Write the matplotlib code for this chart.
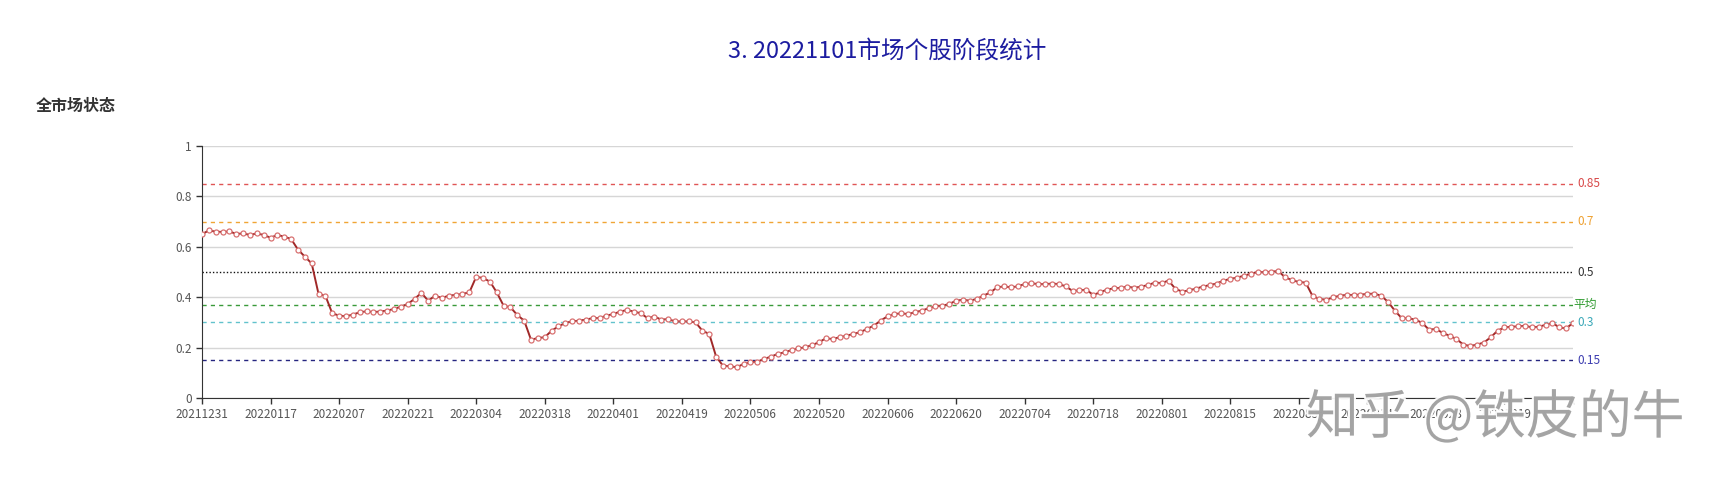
import numpy as np
import matplotlib
matplotlib.use("Agg")
import matplotlib.pyplot as plt
import matplotlib.patheffects as pe

plt.rcParams['font.family'] = ['Noto Sans CJK SC', 'DejaVu Sans']

title = '3. 20221101市场个股阶段统计'
panel_title = '全市场状态'

# one value per trading day, 20211231 .. 20221101
status = [
    0.650, 0.665, 0.660, 0.659, 0.661, 0.651, 0.653, 0.647, 0.653, 0.647,
    0.636, 0.647, 0.640, 0.631, 0.589, 0.561, 0.534, 0.413, 0.406, 0.336,
    0.327, 0.324, 0.331, 0.340, 0.344, 0.341, 0.343, 0.347, 0.353, 0.362,
    0.373, 0.393, 0.417, 0.386, 0.406, 0.397, 0.406, 0.409, 0.413, 0.419,
    0.481, 0.476, 0.462, 0.419, 0.366, 0.360, 0.329, 0.307, 0.231, 0.238,
    0.241, 0.267, 0.284, 0.298, 0.304, 0.307, 0.311, 0.317, 0.317, 0.327,
    0.333, 0.343, 0.349, 0.343, 0.336, 0.317, 0.323, 0.311, 0.313, 0.304,
    0.304, 0.304, 0.300, 0.267, 0.254, 0.164, 0.128, 0.126, 0.122, 0.135,
    0.142, 0.144, 0.155, 0.164, 0.175, 0.181, 0.190, 0.197, 0.201, 0.210,
    0.221, 0.237, 0.234, 0.241, 0.247, 0.254, 0.261, 0.274, 0.287, 0.307,
    0.324, 0.333, 0.336, 0.333, 0.340, 0.347, 0.356, 0.364, 0.366, 0.373,
    0.386, 0.390, 0.386, 0.393, 0.406, 0.419, 0.439, 0.443, 0.439, 0.443,
    0.452, 0.455, 0.452, 0.452, 0.454, 0.452, 0.443, 0.425, 0.427, 0.430,
    0.409, 0.419, 0.430, 0.435, 0.437, 0.442, 0.437, 0.442, 0.448, 0.458,
    0.456, 0.466, 0.433, 0.422, 0.427, 0.434, 0.442, 0.448, 0.454, 0.466,
    0.472, 0.478, 0.485, 0.493, 0.500, 0.499, 0.501, 0.504, 0.479, 0.468,
    0.460, 0.458, 0.405, 0.393, 0.390, 0.399, 0.406, 0.409, 0.409, 0.410,
    0.413, 0.414, 0.406, 0.382, 0.347, 0.317, 0.316, 0.311, 0.298, 0.271,
    0.274, 0.258, 0.247, 0.234, 0.212, 0.206, 0.212, 0.220, 0.241, 0.267,
    0.280, 0.283, 0.284, 0.287, 0.280, 0.283, 0.290, 0.298, 0.280, 0.276,
    0.298,
]

tick_labels = ['20211231', '20220117', '20220207', '20220221', '20220304',
               '20220318', '20220401', '20220419', '20220506', '20220520',
               '20220606', '20220620', '20220704', '20220718', '20220801',
               '20220815', '20220830', '20220914', '20220928', '20221019', '']

levels = [0.85, 0.7, 0.5, 0.3, 0.15]
level_labels = ['0.85', '0.7', '0.5', '0.3', '0.15']
level_colors = ['#e05555', '#f0a535', '#111111', '#62c2cc', '#262680']
level_text_colors = ['#d84848', '#eea030', '#333333', '#3aa8b8', '#3c3cb0']

x = np.arange(len(status))
avg = np.mean(status)

fig = plt.figure(figsize=(17.34, 4.88), dpi=100)
ax = fig.add_axes([202 / 1734, 90 / 488, 1371 / 1734, 252 / 488])

ax.set_ylim(0, 1)
ax.set_xlim(0, len(status) - 1)
ax.set_yticks([0, 0.2, 0.4, 0.6, 0.8, 1])
ax.set_yticklabels(['0', '0.2', '0.4', '0.6', '0.8', '1'])
ticks = np.arange(0, len(status), 10)
ax.set_xticks(ticks)
ax.set_xticklabels(tick_labels[:len(ticks)])
ax.tick_params(axis='both', labelsize=8.5, colors='#333333', labelcolor='#555555',
               length=4, width=1)
ax.grid(axis='y', color='#d6d6d6', lw=1)
ax.set_axisbelow(True)
for s in ['top', 'right']:
    ax.spines[s].set_visible(False)
for s in ['left', 'bottom']:
    ax.spines[s].set_color('#333333')

# reference levels
for lv, lab, c, tc in zip(levels, level_labels, level_colors, level_text_colors):
    ls = (0, (1, 1.5)) if lv == 0.5 else (0, (3, 3))
    ax.axhline(lv, color=c, lw=1, ls=ls)
    ax.text(len(status) - 1 + 0.7, lv, lab, color=tc, fontsize=8.5, va='center', ha='left')
ax.axhline(avg, color='#3a9a3a', lw=1, ls=(0, (3, 3)))
ax.text(len(status) - 1 + 0.1, avg, '平均', color='#2e9a2e', fontsize=8.5, va='center', ha='left')

ax.plot(x, status, color='#a02828', lw=1.4, marker='o', ms=3.6,
        mfc='white', mec='#d87070', mew=0.9, zorder=5)

fig.text(887 / 1734, 1 - 51 / 488, title, color='#1c1ca0', fontsize=17,
         ha='center', va='center')
fig.text(36 / 1734, 1 - 106 / 488, panel_title, color='#333333', fontsize=11.5,
         fontweight='bold', ha='left', va='center')

# watermark
fig.text(1306 / 1734, 1 - 418 / 488, '知乎 @铁皮的牛', color='#a0a0a0', fontsize=38,
         ha='left', va='center', alpha=0.95,
         path_effects=[pe.withStroke(linewidth=3, foreground='white')])

fig.savefig('out.png', dpi=100)
